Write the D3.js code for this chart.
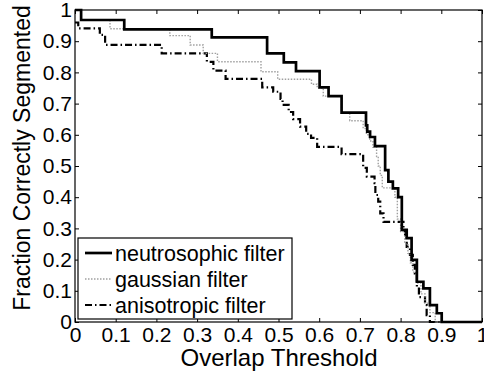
<!DOCTYPE html>
<html>
<head>
<meta charset="utf-8">
<script src="https://cdn.jsdelivr.net/npm/d3@7"></script>
<style>
  body { margin: 0; background: #fff; }
  text { font-family: "Liberation Sans", Arial, Helvetica, sans-serif; fill: #000; }
</style>
</head>
<body>
<div id="chart"></div>
<script>
var svgWidth = 484;
var svgHeight = 372;
var margin = { top: 10, right: 2, bottom: 50, left: 75 };

var width = svgWidth - margin.left - margin.right;
var height = svgHeight - margin.top - margin.bottom;

// Data (step curves: value holds from each threshold on)
var neutroX = [0, 0.015, 0.121, 0.336, 0.472, 0.513, 0.543, 0.601, 0.623, 0.655, 0.715, 0.718, 0.725, 0.737, 0.762, 0.770, 0.781, 0.794, 0.803, 0.815, 0.827, 0.840, 0.856, 0.872, 0.889, 0.901, 1.0];
var neutroY = [1.0, 0.968, 0.938, 0.912, 0.861, 0.832, 0.804, 0.752, 0.724, 0.671, 0.63, 0.61, 0.593, 0.564, 0.487, 0.45, 0.428, 0.40, 0.295, 0.269, 0.199, 0.129, 0.108, 0.054, 0.028, 0, 0];

var gaussX = [0, 0.015, 0.086, 0.233, 0.283, 0.315, 0.35, 0.457, 0.498, 0.581, 0.595, 0.61, 0.655, 0.675, 0.708, 0.716, 0.724, 0.732, 0.741, 0.745, 0.75, 0.755, 0.786, 0.792, 0.80, 0.81, 0.818, 0.824, 0.83, 0.84, 0.85, 0.86, 0.872, 0.885, 1.0];
var gaussY = [1.0, 0.968, 0.94, 0.918, 0.888, 0.861, 0.834, 0.802, 0.778, 0.762, 0.75, 0.724, 0.671, 0.645, 0.62, 0.60, 0.58, 0.56, 0.53, 0.50, 0.47, 0.43, 0.40, 0.33, 0.29, 0.25, 0.22, 0.19, 0.16, 0.125, 0.09, 0.06, 0.03, 0, 0];

var anisoX = [0, 0.008, 0.061, 0.074, 0.213, 0.324, 0.34, 0.37, 0.46, 0.487, 0.505, 0.51, 0.525, 0.536, 0.553, 0.568, 0.58, 0.595, 0.655, 0.708, 0.717, 0.736, 0.738, 0.745, 0.75, 0.758, 0.807, 0.811, 0.815, 0.823, 0.83, 0.835, 0.84, 0.845, 0.86, 0.864, 0.872, 1.0];
var anisoY = [0.96, 0.941, 0.92, 0.888, 0.861, 0.834, 0.806, 0.779, 0.752, 0.738, 0.715, 0.696, 0.673, 0.65, 0.626, 0.603, 0.59, 0.561, 0.538, 0.494, 0.466, 0.445, 0.407, 0.386, 0.348, 0.321, 0.300, 0.273, 0.241, 0.215, 0.183, 0.156, 0.113, 0.08, 0.054, 0.022, 0, 0];

var xTicks = [0, 0.1, 0.2, 0.3, 0.4, 0.5, 0.6, 0.7, 0.8, 0.9, 1];
var yTicks = [0, 0.1, 0.2, 0.3, 0.4, 0.5, 0.6, 0.7, 0.8, 0.9, 1];
var seriesNames = ["neutrosophic filter", "gaussian filter", "anisotropic filter"];

var svg = d3.select("#chart")
  .append("svg")
  .attr("width", svgWidth)
  .attr("height", svgHeight);

var chartGroup = svg.append("g")
  .attr("transform", `translate(${margin.left}, ${margin.top})`);

var xScale = d3.scaleLinear().domain([0, 1]).range([0, width]);
var yScale = d3.scaleLinear().domain([0, 1]).range([height, 0]);

var fmt = d => d === 0 || d === 1 ? String(d) : d3.format(".1f")(d);

// Axes with inward ticks on all four sides
var bottomAxis = d3.axisBottom(xScale).tickValues(xTicks).tickFormat(fmt).tickSizeInner(-4).tickSizeOuter(0).tickPadding(5);
var topAxis = d3.axisTop(xScale).tickValues(xTicks).tickFormat("").tickSizeInner(-4).tickSizeOuter(0);
var leftAxis = d3.axisLeft(yScale).tickValues(yTicks).tickFormat(fmt).tickSizeInner(-4).tickSizeOuter(0).tickPadding(3);
var rightAxis = d3.axisRight(yScale).tickValues(yTicks).tickFormat("").tickSizeInner(-4).tickSizeOuter(0);

function styleAxis(g) {
  g.select(".domain").remove();
  g.selectAll("line").attr("stroke", "#000");
  g.selectAll("text").style("font-size", "21px").attr("fill", "#000")
    .attr("font-family", "Liberation Sans, Arial, sans-serif");
}

chartGroup.append("g").attr("transform", `translate(0, ${height})`).call(bottomAxis).call(styleAxis);
chartGroup.append("g").call(topAxis).call(styleAxis);
chartGroup.append("g").call(leftAxis).call(styleAxis);
chartGroup.append("g").attr("transform", `translate(${width}, 0)`).call(rightAxis).call(styleAxis);

// Series lines
var line = d3.line()
  .x(d => xScale(d[0]))
  .y(d => yScale(d[1]))
  .curve(d3.curveStepAfter);

var series = [
  { xs: neutroX, ys: neutroY, stroke: "#000", width: 2.7, dash: null },
  { xs: gaussX, ys: gaussY, stroke: "#a0a0a0", width: 1.4, dash: "1.5,1.5" },
  { xs: anisoX, ys: anisoY, stroke: "#000", width: 2.2, dash: "7,3,1.5,3" }
];

chartGroup.selectAll(".series")
  .data(series.slice().reverse())
  .enter()
  .append("path")
  .attr("class", "series")
  .attr("fill", "none")
  .attr("stroke", d => d.stroke)
  .attr("stroke-width", d => d.width)
  .attr("stroke-dasharray", d => d.dash)
  .attr("d", d => line(d.xs.map((x, i) => [x, d.ys[i]])));

// Plot box
chartGroup.append("rect")
  .attr("width", width)
  .attr("height", height)
  .attr("fill", "none")
  .attr("stroke", "#000")
  .attr("stroke-width", 1.2);

// Legend
var legend = chartGroup.append("g")
  .attr("transform", "translate(3, 228)");

legend.append("rect")
  .attr("width", 214)
  .attr("height", 81)
  .attr("fill", "#fff")
  .attr("stroke", "#000")
  .attr("stroke-width", 1.2);

var entries = legend.selectAll(".entry")
  .data(series)
  .enter()
  .append("g")
  .attr("transform", (d, i) => `translate(0, ${15 + i * 26})`);

entries.append("line")
  .attr("x1", 7)
  .attr("x2", 34)
  .attr("stroke", d => d.stroke)
  .attr("stroke-width", d => d.width)
  .attr("stroke-dasharray", d => d.dash);

entries.append("text")
  .attr("x", 37)
  .attr("dy", "0.35em")
  .style("font-size", "21.5px")
  .text((d, i) => seriesNames[i]);

// Axis labels
svg.append("text")
  .attr("transform", `translate(30, ${margin.top + height / 2 - 8}) rotate(-90)`)
  .style("font-size", "23px")
  .style("text-anchor", "middle")
  .text("Fraction Correctly Segmented");

svg.append("text")
  .attr("x", 279)
  .attr("y", 366)
  .style("font-size", "24px")
  .style("text-anchor", "middle")
  .text("Overlap Threshold");
</script>
</body>
</html>
